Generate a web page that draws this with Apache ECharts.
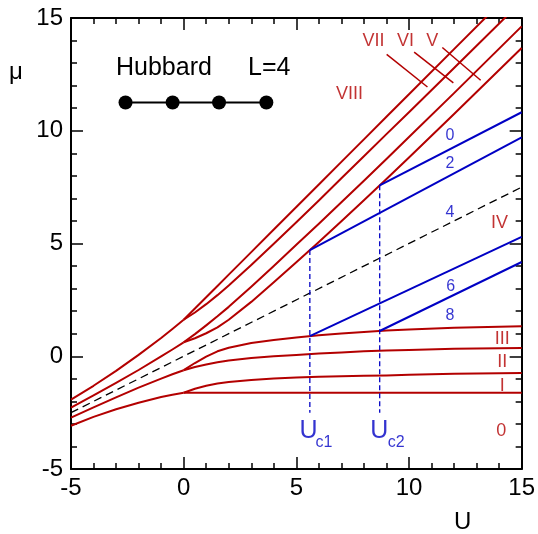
<!DOCTYPE html>
<html><head><meta charset="utf-8">
<script src="https://cdn.jsdelivr.net/npm/echarts@6/dist/echarts.min.js"></script>
<style>html,body{margin:0;padding:0;background:#fff}#c{width:538px;height:534px}</style>
</head><body><div id="c"></div>
<script>
// ---------- data ----------
// attractive side U<0 : four curves
const U_neg = [-5, -4, -3, -2, -1, -0.5, 0];
const a1 = [-3.08, -2.69, -2.35, -2.06, -1.81, -1.71, -1.618];
const a2 = [-2.72, -2.27, -1.82, -1.39, -0.99, -0.80, -0.618];
const a3 = [-2.28, -1.73, -1.18, -0.61, -0.01, 0.30, 0.618];
const a4 = [-1.92, -1.31, -0.65, 0.06, 0.81, 1.21, 1.618];
// repulsive side U>0 : eight curves
const U_pos = [0, 0.5, 1, 1.5, 2, 3, 4, 5, 6, 7, 8, 9, 10, 12, 15];
const c1 = [-1.618, -1.618, -1.618, -1.618, -1.618, -1.618, -1.618, -1.618, -1.618, -1.618, -1.618, -1.618, -1.618, -1.618, -1.618];
const c2 = [-1.618, -1.44, -1.31, -1.21, -1.14, -1.05, -0.99, -0.94, -0.91, -0.89, -0.87, -0.85, -0.82, -0.78, -0.74];
const c3 = [-0.618, -0.48, -0.37, -0.27, -0.19, -0.08, 0.00, 0.06, 0.12, 0.17, 0.22, 0.25, 0.28, 0.33, 0.37];
const c4 = [-0.618, -0.30, -0.02, 0.22, 0.38, 0.59, 0.72, 0.83, 0.93, 1.01, 1.08, 1.14, 1.19, 1.26, 1.33];
const c5 = [0.618, 0.80, 1.02, 1.28, 1.62, 2.41, 3.28, 4.17, 5.07, 5.99, 6.92, 7.86, 8.81, 10.74, 13.67];
const c6 = [0.618, 0.98, 1.37, 1.77, 2.19, 3.08, 4.00, 4.94, 5.88, 6.83, 7.78, 8.75, 9.72, 11.67, 14.63];
const c7 = [1.618, 1.94, 2.31, 2.71, 3.14, 4.05, 4.99, 5.94, 6.91, 7.89, 8.87, 9.85, 10.82, 12.78, 15.74];
const c8 = [1.618, 2.118, 2.618, 3.118, 3.618, 4.618, 5.618, 6.618, 7.618, 8.618, 9.618, 10.618, 11.618, 13.618, 16.618];
// blue branches beyond the critical couplings
const Uc1 = 5.6, Uc2 = 8.7;
const blue1 = [[Uc1, 0.89], [15, 5.29]];
const blue2 = [[Uc2, 1.12], [15, 4.18]];
const blue3 = [[Uc1, 4.71], [15, 9.71]];
const blue4 = [[Uc2, 7.58], [15, 10.82]];
const vline1 = [[Uc1, 4.71], [Uc1, -2.5]];
const vline2 = [[Uc2, 7.58], [Uc2, -2.5]];
const halfU = [[-5, -2.5], [15, 7.5]];
// axis ticks
const ticks = [-5, 0, 5, 10, 15];

// ---------- annotations (data coordinates) ----------
const redTexts = [
  ['VII', 8.42, 13.97], ['VI', 9.84, 13.97], ['V', 11.03, 13.97], ['VIII', 7.36, 11.65],
  ['IV', 14.02, 5.91], ['III', 14.14, 0.78], ['II', 14.14, -0.25], ['I', 14.14, -1.33], ['0', 14.1, -3.33]
];
const blueTexts = [['0', 11.82, 9.80], ['2', 11.82, 8.54], ['4', 11.82, 6.37], ['6', 11.85, 3.07], ['8', 11.82, 1.82]];
const leaders = [
  [[9.01, 13.39], [10.82, 11.94]],
  [[10.23, 13.49], [11.97, 12.12]],
  [[11.48, 13.69], [13.18, 12.24]]
];
const chainSites = [[-2.58, 11.25], [-0.49, 11.25], [1.57, 11.25], [3.67, 11.25]];

// ---------- chart ----------
const FONT = '"Liberation Sans", Arial, Helvetica, sans-serif';
const RED = '#b30000', BLUE = '#0000c4';
const chart = echarts.init(document.getElementById('c'), null, {renderer: 'canvas'});
const zip = (xs, ys) => xs.map((x, i) => [x, ys[i]]);

function axis(extra) {
  return Object.assign({
    type: 'value', min: ticks[0], max: ticks[ticks.length - 1], interval: ticks[1] - ticks[0],
    axisLine: {show: true, onZero: false, lineStyle: {color: '#000', width: 2}},
    axisTick: {show: true, inside: true, length: 12, lineStyle: {color: '#000', width: 1.5}},
    minorTick: {show: true, splitNumber: 5, length: 6, lineStyle: {color: '#000', width: 1.5}},
    splitLine: {show: false}, minorSplitLine: {show: false},
    axisLabel: {show: false}
  }, extra);
}
const labelStyle = {show: true, fontSize: 24, color: '#000', fontFamily: FONT};

const series = [];
function curve(data, color, width, dash) {
  series.push({
    type: 'line', data: data, showSymbol: false, symbol: 'none', smooth: false,
    clip: true, silent: true,
    lineStyle: {color: color, width: width, type: dash || 'solid', join: 'round'}
  });
}
[a1, a2, a3, a4].forEach(a => curve(zip(U_neg, a), RED, 2));
[c1, c2, c3, c4, c5, c6, c7, c8].forEach(c => curve(zip(U_pos, c), RED, 2));
[blue1, blue2, blue3, blue4].forEach(b => curve(b, BLUE, 2));
curve(halfU, '#000', 1.3, [8, 5]);
curve(vline1, BLUE, 1.3, [5, 3]);
curve(vline2, BLUE, 1.3, [5, 3]);
leaders.forEach(l => curve(l, RED, 1.5));
// chain
series.push({
  type: 'line', data: chainSites, symbol: 'circle', symbolSize: 14, showSymbol: true,
  itemStyle: {color: '#000'}, lineStyle: {color: '#000', width: 2}, silent: true, clip: false
});
function textSeries(list, color, size) {
  series.push({
    type: 'scatter', symbolSize: 0, silent: true, clip: false,
    data: list.map(t => ({value: [t[1], t[2]], name: t[0]})),
    label: {show: true, formatter: p => p.name, position: [0, 0], align: 'center', verticalAlign: 'middle',
      color: color, fontSize: size, fontFamily: FONT}
  });
}
textSeries(redTexts, RED, 18);
textSeries(blueTexts, BLUE, 16);
textSeries([['U', 5.54, -3.30], ['U', 8.68, -3.30]], BLUE, 25);
textSeries([['c1', 6.23, -3.83], ['c2', 9.43, -3.84]], BLUE, 16);

chart.setOption({
  animation: false,
  backgroundColor: '#fff',
  grid: {left: 71, right: 16, top: 18, bottom: 65, containLabel: false},
  xAxis: [
    axis({position: 'bottom', axisLabel: Object.assign({margin: 7}, labelStyle)}),
    axis({position: 'top'})
  ],
  yAxis: [
    axis({position: 'left', axisLabel: Object.assign({margin: 8}, labelStyle)}),
    axis({position: 'right'})
  ],
  graphic: [
    {type: 'text', left: 9, top: 60, style: {text: 'μ', fontSize: 24, fill: '#000', fontFamily: FONT}},
    {type: 'text', left: 454, top: 510, style: {text: 'U', fontSize: 24, fill: '#000', fontFamily: FONT}},
    {type: 'text', left: 116, top: 56, style: {text: 'Hubbard', fontSize: 25, fill: '#000', fontFamily: FONT}},
    {type: 'text', left: 248, top: 56, style: {text: 'L=4', fontSize: 25, fill: '#000', fontFamily: FONT}}
  ],
  series: series
});
</script></body></html>
